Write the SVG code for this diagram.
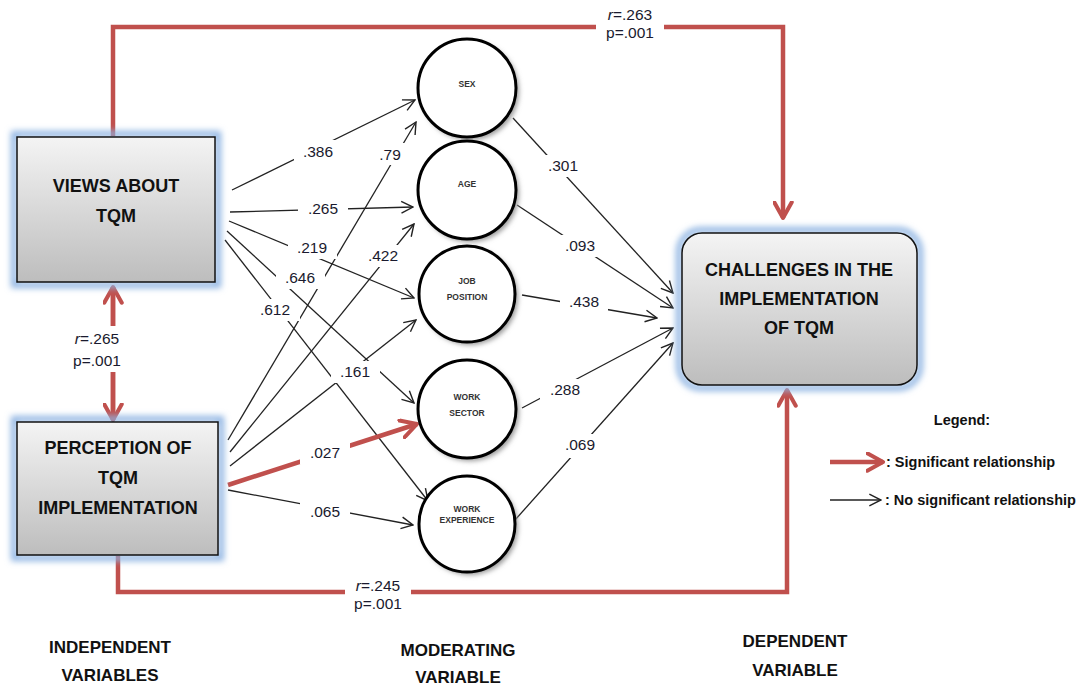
<svg xmlns="http://www.w3.org/2000/svg" width="1089" height="688" viewBox="0 0 1089 688">
<style>
.bx{font-family:"Liberation Sans",Arial,sans-serif;font-weight:bold;font-size:18px;fill:#111;text-anchor:middle}
.lb{font-family:"Liberation Sans",Arial,sans-serif;font-size:15.5px;fill:#1a1a2e;text-anchor:middle}
.ct{font-family:"Liberation Sans",Arial,sans-serif;font-weight:bold;font-size:8.5px;fill:#333;text-anchor:middle}
.ft{font-family:"Liberation Sans",Arial,sans-serif;font-weight:bold;font-size:17px;fill:#111;text-anchor:middle}
.lg{font-family:"Liberation Sans",Arial,sans-serif;font-weight:bold;font-size:14.5px;fill:#111}
.red{stroke:#c0504d;stroke-width:4.5;fill:none}
.blk{stroke:#222;stroke-width:1.3;fill:none}
.circ{fill:#fff;stroke:#000;stroke-width:3}
.bg{fill:#fff}
</style>
<defs>
<linearGradient id="gr" x1="0" y1="0" x2="0" y2="1">
<stop offset="0" stop-color="#f4f4f4"/>
<stop offset="1" stop-color="#bdbdbd"/>
</linearGradient>
<filter id="glow" x="-10%" y="-10%" width="120%" height="120%">
<feGaussianBlur stdDeviation="3"/>
</filter>
<filter id="sh" x="-20%" y="-20%" width="140%" height="140%">
<feGaussianBlur stdDeviation="2.5"/>
</filter>
<marker id="ra" viewBox="0 0 12 12" refX="10" refY="6" markerWidth="21" markerHeight="21" markerUnits="userSpaceOnUse" orient="auto">
<path d="M1,1 L10,6 L1,11" fill="none" stroke="#c0504d" stroke-width="2.3" stroke-linecap="round" stroke-linejoin="round"/>
</marker>
<marker id="ba" viewBox="0 0 12 12" refX="11" refY="6" markerWidth="14" markerHeight="14" markerUnits="userSpaceOnUse" orient="auto">
<path d="M1,1 L11,6 L1,11" fill="none" stroke="#222" stroke-width="1.2"/>
</marker>
</defs>
<rect width="1089" height="688" fill="#fff"/>

<g id="connectors">
<path class="red" d="M113,136 V27 H783 V218" marker-end="url(#ra)"/>
<path class="red" d="M118,556 V592 H787 V390" marker-end="url(#ra)"/>
<path class="red" d="M113,420 V287" marker-end="url(#ra)"/>
<path class="red" d="M113,287 V420" marker-end="url(#ra)"/>
<path class="blk" d="M232,190 L415,100" marker-end="url(#ba)"/>
<path class="blk" d="M230,212 L413,207" marker-end="url(#ba)"/>
<path class="blk" d="M229,221 L414,298" marker-end="url(#ba)"/>
<path class="blk" d="M227,231 L414,403" marker-end="url(#ba)"/>
<path class="blk" d="M225,240 L428,501" marker-end="url(#ba)"/>
<path class="blk" d="M228,440 L416,122" marker-end="url(#ba)"/>
<path class="blk" d="M230,452 L414,224" marker-end="url(#ba)"/>
<path class="blk" d="M230,466 L416,320" marker-end="url(#ba)"/>
<path class="red" d="M228,485 L417,424" marker-end="url(#ra)"/>
<path class="blk" d="M228,490 L413,525" marker-end="url(#ba)"/>
<path class="blk" d="M513,118 L673,293" marker-end="url(#ba)"/>
<path class="blk" d="M517,205 L673,308" marker-end="url(#ba)"/>
<path class="blk" d="M522,295 L657,318" marker-end="url(#ba)"/>
<path class="blk" d="M522,408 L673,328" marker-end="url(#ba)"/>
<path class="blk" d="M515,520 L673,343" marker-end="url(#ba)"/>
<rect class="bg" x="596" y="2" width="68" height="40"/>
<rect class="bg" x="345" y="574" width="66" height="40"/>
<rect class="bg" x="64" y="326" width="66" height="46"/>
<rect class="bg" x="294" y="140" width="48" height="22"/>
<rect class="bg" x="373" y="143" width="34" height="22"/>
<rect class="bg" x="298" y="198" width="50" height="22"/>
<rect class="bg" x="288" y="237" width="49" height="22"/>
<rect class="bg" x="359" y="245" width="48" height="22"/>
<rect class="bg" x="276" y="267" width="49" height="22"/>
<rect class="bg" x="251" y="299" width="49" height="22"/>
<rect class="bg" x="331" y="361" width="49" height="22"/>
<rect class="bg" x="300" y="442" width="50" height="22"/>
<rect class="bg" x="300" y="501" width="50" height="22"/>
<rect class="bg" x="538" y="155" width="50" height="22"/>
<rect class="bg" x="556" y="235" width="48" height="22"/>
<rect class="bg" x="560" y="291" width="48" height="22"/>
<rect class="bg" x="540" y="379" width="50" height="22"/>
<rect class="bg" x="556" y="434" width="48" height="24"/>
</g>

<g id="labels">
<text class="lb" x="630" y="20"><tspan font-style="italic">r</tspan>=.263</text>
<text class="lb" x="630" y="38">p=.001</text>
<text class="lb" x="378" y="591"><tspan font-style="italic">r</tspan>=.245</text>
<text class="lb" x="378" y="609">p=.001</text>
<text class="lb" x="97" y="344"><tspan font-style="italic">r</tspan>=.265</text>
<text class="lb" x="97" y="366">p=.001</text>
<text class="lb" x="318" y="157">.386</text>
<text class="lb" x="390" y="160">.79</text>
<text class="lb" x="323" y="214">.265</text>
<text class="lb" x="312" y="253">.219</text>
<text class="lb" x="383" y="261">.422</text>
<text class="lb" x="300" y="283">.646</text>
<text class="lb" x="275" y="315">.612</text>
<text class="lb" x="355" y="377">.161</text>
<text class="lb" x="325" y="458">.027</text>
<text class="lb" x="325" y="517">.065</text>
<text class="lb" x="563" y="171">.301</text>
<text class="lb" x="580" y="251">.093</text>
<text class="lb" x="584" y="307">.438</text>
<text class="lb" x="565" y="395">.288</text>
<text class="lb" x="580" y="450">.069</text>
</g>

<g id="views">
<rect x="14" y="134" width="204" height="151" fill="none" stroke="#8db3e2" stroke-width="6" filter="url(#glow)"/>
<rect x="17" y="137" width="198" height="145" fill="url(#gr)" stroke="#111" stroke-width="1.5"/>
<text class="bx" x="116" y="192">VIEWS ABOUT</text>
<text class="bx" x="116" y="222">TQM</text>
</g>

<g id="perception">
<rect x="14" y="419" width="207" height="139" fill="none" stroke="#8db3e2" stroke-width="6" filter="url(#glow)"/>
<rect x="17" y="422" width="201" height="133" fill="url(#gr)" stroke="#111" stroke-width="1.5"/>
<text class="bx" x="118" y="454">PERCEPTION OF</text>
<text class="bx" x="118" y="484">TQM</text>
<text class="bx" x="118" y="514">IMPLEMENTATION</text>
</g>

<g id="challenges">
<rect x="679" y="230" width="241" height="158" rx="22" fill="none" stroke="#8db3e2" stroke-width="6" filter="url(#glow)"/>
<rect x="682" y="233" width="235" height="152" rx="20" fill="url(#gr)" stroke="#111" stroke-width="1.5"/>
<text class="bx" x="799" y="276">CHALLENGES IN THE</text>
<text class="bx" x="799" y="305">IMPLEMENTATION</text>
<text class="bx" x="799" y="334">OF TQM</text>
</g>

<g id="sex">
<circle cx="470" cy="91" r="49" fill="#999" filter="url(#sh)"/>
<circle class="circ" cx="467" cy="88" r="49"/>
<text class="ct" x="467" y="87">SEX</text>
</g>
<g id="age">
<circle cx="470" cy="193" r="49" fill="#999" filter="url(#sh)"/>
<circle class="circ" cx="467" cy="190" r="49"/>
<text class="ct" x="467" y="187">AGE</text>
</g>
<g id="job">
<circle cx="470" cy="297" r="48" fill="#999" filter="url(#sh)"/>
<circle class="circ" cx="467" cy="294" r="48"/>
<text class="ct" x="467" y="284">JOB</text>
<text class="ct" x="467" y="300">POSITION</text>
</g>
<g id="sector">
<circle cx="470" cy="412" r="49" fill="#999" filter="url(#sh)"/>
<circle class="circ" cx="467" cy="409" r="49"/>
<text class="ct" x="467" y="400">WORK</text>
<text class="ct" x="467" y="416">SECTOR</text>
</g>
<g id="experience">
<circle cx="470" cy="527" r="48" fill="#999" filter="url(#sh)"/>
<circle class="circ" cx="467" cy="524" r="48"/>
<text class="ct" x="467" y="512" font-size="6">WORK</text>
<text class="ct" x="467" y="523" font-size="6">EXPERIENCE</text>
</g>

<g id="footer">
<text class="ft" x="110" y="653">INDEPENDENT</text>
<text class="ft" x="110" y="681">VARIABLES</text>
<text class="ft" x="458" y="656">MODERATING</text>
<text class="ft" x="458" y="683">VARIABLE</text>
<text class="ft" x="795" y="647">DEPENDENT</text>
<text class="ft" x="795" y="676">VARIABLE</text>
</g>

<g id="legend">
<text class="lg" x="962" y="425" text-anchor="middle">Legend:</text>
<path class="red" d="M830,462 L883,462" marker-end="url(#ra)"/>
<text class="lg" x="886" y="467">: Significant relationship</text>
<path class="blk" d="M830,500 L881,500" marker-end="url(#ba)"/>
<text class="lg" x="885" y="505">: No significant relationship</text>
</g>
</svg>
